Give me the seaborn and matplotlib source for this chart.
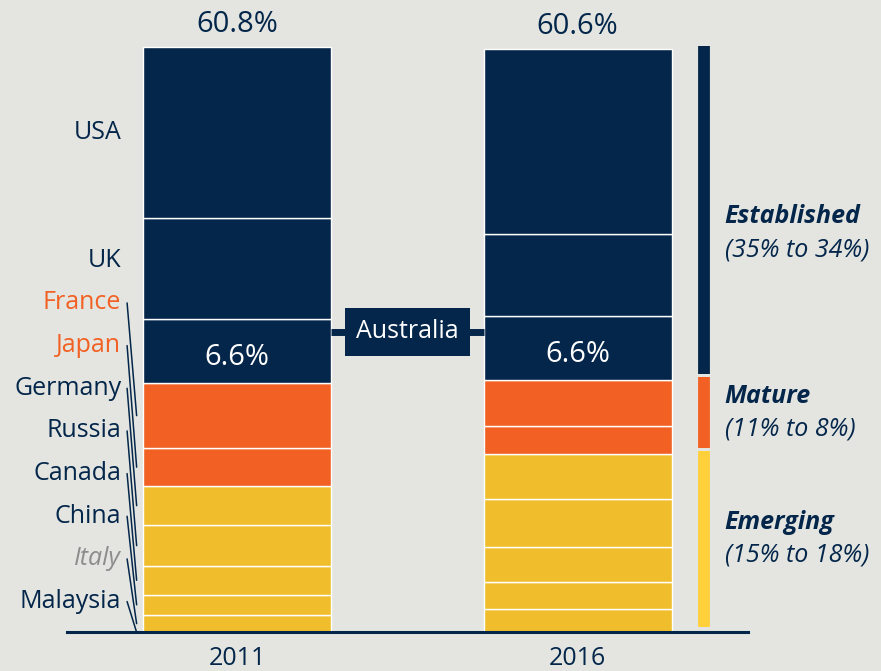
import numpy as np
import matplotlib
matplotlib.use("Agg")
import matplotlib.pyplot as plt
import seaborn as sns

# stacked shares, listed bottom -> top
years = ["2011", "2016"]
countries = ["Malaysia", "Italy", "China", "Canada", "Russia", "Germany",
             "Japan", "France", "Australia", "UK", "USA"]
share_2011 = [0.0, 1.8, 2.1, 3.0, 4.2, 4.1, 3.9, 6.8, 6.6, 10.5, 17.8]
share_2016 = [0.0, 2.4, 2.8, 3.7, 4.9, 4.7, 2.9, 4.8, 6.6, 8.6, 19.2]
segment_group = ["Emerging"] * 6 + ["Mature"] * 2 + ["Established"] * 3
totals = ["60.8%", "60.6%"]
australia_labels = ["6.6%", "6.6%"]

# left-hand labels, top -> bottom
label_names = ["USA", "UK", "France", "Japan", "Germany", "Russia",
               "Canada", "China", "Italy", "Malaysia"]

# right-hand bracket legend
group_names = ["Emerging", "Mature", "Established"]
group_ranges = ["(15% to 18%)", "(11% to 8%)", "(35% to 34%)"]

NAVY = "#03264A"
ORANGE = "#F26123"
YELLOW = "#F0BE2D"
LEGEND_YELLOW = "#FFD03A"
BG = "#E4E5E0"
group_colors = {"Emerging": YELLOW, "Mature": ORANGE, "Established": NAVY}
legend_colors = {"Emerging": LEGEND_YELLOW, "Mature": ORANGE, "Established": NAVY}

sns.set_theme(style="white")
plt.rcParams["font.family"] = ["Open Sans", "DejaVu Sans"]

fig = plt.figure(figsize=(8.81, 6.71), dpi=100, facecolor=BG)
ax = fig.add_axes([67 / 881, 1 - 632.3 / 671, 681 / 881, 632.3 / 671])
ax.set_facecolor(BG)

BAR_W = 0.553
data = np.array([share_2011, share_2016])
bottoms = np.zeros(2)
seg_bottoms = []
for i, name in enumerate(countries):
    vals = data[:, i]
    sns.barplot(x=years, y=vals, bottom=bottoms, color=group_colors[segment_group[i]],
                width=BAR_W, errorbar=None, edgecolor="white", linewidth=1.0,
                saturation=1, ax=ax)
    seg_bottoms.append(bottoms.copy())
    bottoms = bottoms + vals
seg_bottoms = np.array(seg_bottoms)  # (country, year)

ax.set_xlim(-0.5, 1.5)
ax.set_ylim(0, 65.66)
ax.set_yticks([])
ax.set_xlabel("")
ax.set_ylabel("")
for s in ["top", "left", "right"]:
    ax.spines[s].set_visible(False)
ax.spines["bottom"].set_color(NAVY)
ax.spines["bottom"].set_linewidth(2.2)
ax.tick_params(axis="x", length=0, pad=10, labelsize=18, labelcolor=NAVY)

# totals on top
for xi, lab in enumerate(totals):
    ax.text(xi, bottoms[xi] + 2.3, lab, ha="center", va="center",
            fontsize=21, color=NAVY)

# Australia labels and connector
aus = countries.index("Australia")
for xi, lab in enumerate(australia_labels):
    y = seg_bottoms[aus, xi] + 0.40 * data[xi, aus]
    ax.text(xi, y, lab, ha="center", va="center", fontsize=21, color="white")
conn_y = seg_bottoms[aus].mean() + 0.78 * data[:, aus].mean()
ax.plot([BAR_W / 2, 1 - BAR_W / 2], [conn_y, conn_y], color=NAVY, lw=5,
        solid_capstyle="butt", zorder=3)
ax.text(0.5, conn_y, "Australia", ha="center", va="center", fontsize=18,
        color="white", zorder=4,
        bbox=dict(boxstyle="square,pad=0.45", fc=NAVY, ec="none"))

# left labels with leader lines into the 2011 bar
left_edge = -BAR_W / 2
mids_2011 = {c: seg_bottoms[i, 0] + data[0, i] / 2 for i, c in enumerate(countries)}
label_y = [mids_2011["USA"], 38.6] + list(34.2 - 4.43 * np.arange(8))
for name, y in zip(label_names, label_y):
    color, style = NAVY, "normal"
    if name in ("France", "Japan"):
        color = ORANGE
    if name == "Italy":
        color, style = "#8C8C8C", "italic"
    ax.text(left_edge - 0.064, y, name, ha="right", va="center", fontsize=18,
            color=color, style=style)
    if name not in ("USA", "UK"):
        ax.plot([left_edge - 0.047, left_edge - 0.019], [y, mids_2011[name]],
                color=NAVY, lw=1.1, clip_on=False)

# bracket legend on the right, spans follow the 2016 group extents
lx = 1.370
for g, rng in zip(group_names, group_ranges):
    idx = [i for i, s in enumerate(segment_group) if s == g]
    lo = seg_bottoms[idx[0], 1]
    hi = seg_bottoms[idx[-1], 1] + data[1, idx[-1]]
    y0, y1 = lo + 0.6, hi + 0.3
    ax.plot([lx, lx], [y0, y1], color=legend_colors[g], lw=8.5,
            solid_capstyle="butt", clip_on=False)
    mid = (y0 + y1) / 2 - (2.4 if g == "Established" else 0)
    ax.text(1.432, mid + 1.7, g, ha="left", va="center", fontsize=18,
            color=NAVY, style="italic", weight="bold")
    ax.text(1.432, mid - 1.7, rng, ha="left", va="center", fontsize=18,
            color=NAVY, style="italic")

fig.savefig("out.png", dpi=100, facecolor=BG)
